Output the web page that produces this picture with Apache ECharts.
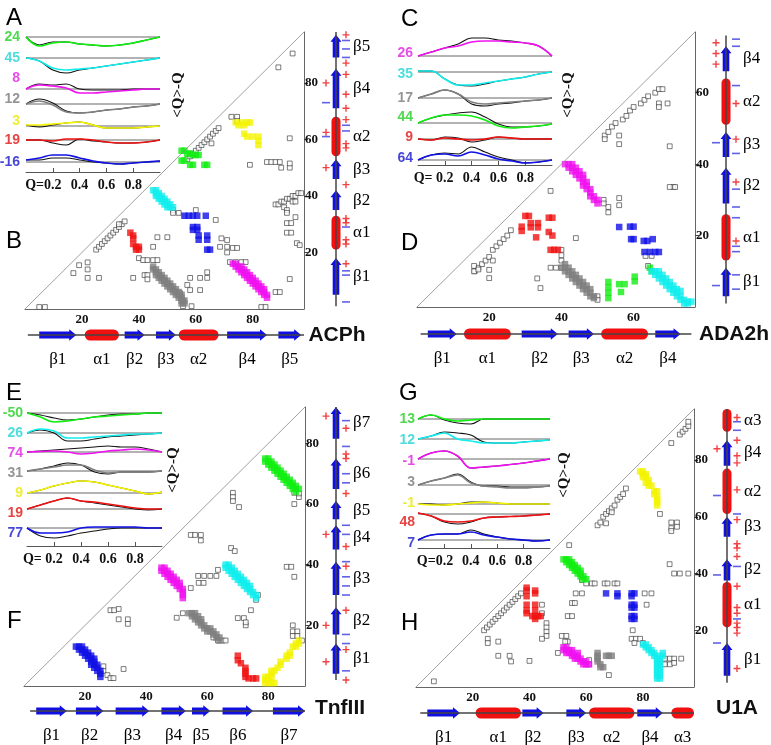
<!DOCTYPE html>
<html><head><meta charset="utf-8">
<script src="https://cdn.jsdelivr.net/npm/echarts@6/dist/echarts.min.js"></script>
<style>html,body{margin:0;padding:0;background:#fff}#c{width:771px;height:745px}</style>
</head><body><div id="c"></div><script>
// ---------------- DATA ----------------
const Q = [0,0.1,0.2,0.3,0.4,0.5,0.6,0.7,0.8,0.9,1.0];

// ACPh inset
const acphLabels = ['24','45','8','12','3','19','-16'];
const acphColors = ['green','cyan','magenta','gray','yellow','red','blue'];
const acphBase = [135,114,83,68,46,32,10];
const acphLabelY = [135,114,94,73,51,32,10];
const acphCol = [[0,-9,-6,-5,-7,-8,-9,-8,-6,-3,0],[0,-3,-10,-12,-11,-10,-8,-6,-4,-2,0],[0,4,3,1,-4,-4,-3,-2,-1,0,0],[0,3,-1,-8,-9,-8,-6,-5,-3,-2,0],[1,1,2,3,4,1,-2,-2,-2,-1,0],[0,0,-1,1,1,0,-2,-3,-3,-2,0],[2,4,7,7,4,1,-1,-2,-1,0,1]];
const acphBlk = [[0,-8,-5,-5,-7,-8,-9,-8,-6,-3,0],[0,-3,-12,-15,-12,-10,-8,-6,-4,-2,0],[0,5,4,5,0,-1,-1,-1,0,0,0],[0,5,1,-7,-9,-8,-6,-5,-3,-2,0],[1,-1,1,3,4,1,-2,-2,-2,-1,0],[0,0,-3,-5,1,-1,-2,-3,-3,-2,0],[2,2,4,4,2,0,-1,-2,-1,0,1]];

// ADA2h inset
const adaLabels = ['26','35','17','44','9','64'];
const adaColors = ['magenta','cyan','gray','green','red','blue'];
const adaBase = [109,93,67,42,26,5];
const adaLabelY = [112,91,67,48,28,7];
const adaCol = [[0,4,8,10,14,15,15,14,13,10,0],[1,1,-7,-13,-13,-11,-9,-7,-5,-2,0],[0,4,8,4,-4,-6,-5,-4,-3,-2,0],[0,5,8,8,7,3,-3,-5,-4,-3,-1],[0,-1,1,0,-1,0,2,1,0,0,0],[0,5,6,4,8,5,1,-1,-3,-2,0]];
const adaBlk = [[0,4,8,12,18,18,16,15,13,10,0],[1,1,-7,-13,-14,-12,-9,-7,-5,-2,0],[0,4,8,4,-6,-8,-6,-5,-3,-2,0],[0,5,8,10,11,6,-1,-4,-4,-3,-1],[0,-1,2,1,-3,-1,2,1,0,0,0],[0,5,7,6,13,8,3,0,-3,-2,0]];

// TnfIII inset
const tnfLabels = ['-50','26','74','31','9','19','77'];
const tnfColors = ['green','cyan','magenta','gray','yellow','red','blue'];
const tnfBase = [133,113,94,75,53,37,18];
const tnfLabelY = [133,113,93,73,53,33,13];
const tnfCol = [[0,-4,-9,-8,-6,-4,-3,-2,-1,0,0],[0,4,2,-5,-5,-4,-3,-2,-1,-1,0],[0,0.5,1,0,-2,-1,1,2,3,2,0],[0,2,4,6,6,1,-2,-1,-1,-1,0],[0,3,7,10,12,11,8,5,2,-1,1],[0,4,8,11,8,7,5,3,1,0,0],[0,-5,-5,-4,0,1,1,1,1,0,0]];
const tnfBlk = [[0,-2,-5,-7,-6,-4,-2,-1,-1,0,0],[0,3,0,-8,-8,-6,-4,-3,-2,-1,0],[0,1,2,3,4,5,6,5,5,3,0],[0,2,5,8,6,-1,-3,-1,-1,-1,0],[0,3,7,10,12,11,8,5,2,-1,1],[0,4,8,11,8,6,4,2,0,-1,0],[0,-8,-10,-8,-5,-3,-1,0,0,0,0]];

// U1A inset
const u1aLabels = ['13','12','-1','3','-1','48','7'];
const u1aColors = ['green','cyan','magenta','gray','yellow','red','blue'];
const u1aBase = [129,109,89,63,44,34,8];
const u1aLabelY = [129,108,87,66,45,26,5];
const u1aCol = [[0,4,0,-2,-1,0,0,0,0,0,0],[0,3,6,0,-2,-4,-4,-4,-3,-2,-1],[0,6,8,3,-9,-8,-7,-5.5,-4,-2,0],[0,4,7,10,2,-1,-2,-3,-3,-2,-1],[0,-1,-1,0,1,2,1,0,0,0,0],[1,-2,-7,-8,-7,-4,-3,-2.5,-2,-1,0],[0,5,6,6,8,5,3,1,0,-1,0]];
const u1aBlk = [[0,4,-1,-4,-5,0,0,0,0,0,0],[0,3,7,6,4,-3,-4,-4,-3,-2,-1],[0,6,8,3,-9,-8,-7,-5.5,-4,-2,0],[0,4,7,11,3,-1,-1,-2,-2,-2,-1],[0,0,-1,0,2,2,1,0,0,0,0],[1,-2,-8,-10,-8,-4,-3,-2.5,-2,-1,0],[0,5,6,6,10,6,3,1,0,-1,0]];

// Contact maps: open squares
const acphOpen = [[25,21],[26,22],[27,23],[28,24],[29,25],[30,26],[31,27],[32,28],[33,29],[34,30],[35,31],[33,30],
[19,15.5],[22,16.5],[22,14],[22,11],[17,12.7],[26,11],[5,0.7],[7,0.7],
[40,18],[41.5,17.3],[43,17.3],[45,17.3],[46.5,17.3],[45,22],[50,25.4],[46.5,25.4],
[38,11],[42,12],[43,12],[43,10.5],[52,35],[54,34],[52,34],[60,35],[67,31.5],
[69,25],[71,24.4],[68.5,22],[71,22],[73,21.6],[71,20],[74.5,21.6],
[72,16.6],[74,16.6],[76,16.6],[77.5,16.6],
[58,11],[61.5,11],[64,13],[64,11],[57,8.5],[58,6.7],[61.5,6.7],[58.5,1],
[54.5,5.6],[55.5,2.8],[55.5,1],[88,6],[89.5,6],[83,0.7],[84.5,0.7],[93,10.6],
[88,37],[89,37],[90,38],[91,38],[92,39],[93,39],[94,40],[95,40],[96,41],[97,41],[91,36],[92,35],[94,38],[95,38],
[92,34],[95,32.5],[92,30.4],[93.5,30.4],[92,27],[93.5,27],[95.5,23.3],[96.5,22.6],
[72.5,68],[74.5,68],[74.5,66.5],[93,60.4],[89,85.5],[94,90.4],
[79,51],[85,52],[86.5,52],[88,52],[89.5,52],[90,50],[93,50],[93,51.5],
[57,53],[58,54],[59,55],[60,56],[61,57],[62,58],[63,59],[64,60],[65,61],[66,62],[67,63],[68,64],[65.5,58.6]];
const adaOpen = [[16,10],[17,11],[18,12],[19,13],[20,14],[21,16],[22,17],[23,18],[24,19],[25,20],[26,21.5],
[15.8,11.5],[15.8,10],[17,10.5],[21,13],[20,10.4],[20,8.1],[33.3,8],[34.2,5.3],
[37,11],[38.5,11],[40,11],[40,13],[40,14.5],[44,19.3],[40,16],[50,3],[50,2],[37,32.5],
[51.7,30],[53,28],[53,26.5],[56,30.5],[56,28.5],[51.7,29],[63.3,14.3],[65,14.3],[71,33.6],[64,11.5],
[52,48],[53,49],[54,50.5],[55,51.5],[57,52.5],[58,53.5],[59,55],[60,56],[62,57],[63,58],[64,59],[66,60],[67,61],[68,61],[52,47],
[56,48],[56,45.6],[67,57],[67,56],[69.4,57],[70,45],[70,33.6],[71.5,33.6]];
const tnfOpen = [[28.3,25],[29.5,25],[31,25.4],[31,22],[34,22],[34,20.5],
[32.6,5.6],[26,5],[27.3,3.6],[28.3,2.6],[29.3,2.6],[26,6.5],[50,22.5],[52,24],[54.6,32.3],
[57,36.3],[59,36.3],[61,36.3],[63,36.3],[57.2,34],[58.8,34],[63.5,38.3],
[70,22.4],[72,22.4],[72.6,20],[72.6,21],[74.3,25],[76.6,30],[76,28.4],
[86,39.3],[87.5,39.3],[88.5,36],[88,20],[88,18],[89.5,18],[88,16.5],[89.5,16.5],[91,15],
[68.4,63.7],[68.4,62.3],[68.4,61],[70.4,59],[88.5,63.7],[90,62.3],[90,63.5],[88.5,60],
[54.6,49.8],[56,49.8],[57.9,49.8],[57.9,48],[67.8,45.5],[69,44.5],[62,16],[63.5,15],[65,15],[66,15]];
const u1aOpen = [[24,20],[25,21],[26,22],[27,23],[28,24],[29,25],[30,26],[31,27],[32,28],[33,29],[34,30],[35,31],[36,32],[37,33],
[25.3,17],[25.3,15.5],[29,16],[29,11],[33,11],[33.5,9],[6.3,2],[40,9.2],
[44.4,29],[44.4,26],[46,22.5],[46,21],[46,19.5],[46,18],[44.4,17],
[51.4,18],[53,18],[53.5,16],[52.6,16],[50,12],[53.5,25],[55,25],[55,29.6],[56,29.6],[56.3,33],[58.5,33],
[61,9.5],[61,8],[68,4.2],[58.5,37.7],[60,36.5],[62,36.5],[63,36.5],[66.5,36.5],[67.5,36.5],[70,36.5],[71,36.5],
[76,17],[77.5,17],[79,17],[80,15.5],[77,15.5],[76.4,20],[80.6,33],[83,33],[81.3,29],
[87.7,10],[89.5,10],[91,10],[93.5,10],[87.7,8],[89.5,8],[91,8.5],
[64,57],[65,58],[66,60],[67,61],[68,62],[69,63],[70,64],[71,66],[72,67],[73,68],[74,70],[67,57.7],[69,61.6],
[90,58],[92,58],[92,56.5],[90,56],[90,55],[90,86],[86,61],[89.4,43.3],[91,40],[93,40],[96,40],
[93,89],[94,90],[95,91],[96,92],[96,93.5],[54,50]];

// Contact maps: coloured contact groups
const acphFilled = [
 ['green',[[55,56],[56,56],[57,55],[58,55],[59,54.5],[60,54.5],[61,54.5],[55,52.5],[56,52.5],[58,51],[59,51],[63,51],[64,51]]],
 ['cyan',[[45,42],[46,42],[46,41],[47,41],[47,40],[48,40],[48,39],[49,39],[49,38],[50,38],[50,37],[51,37],[51,36],[52,36],[46,40],[47,39],[48,38],[49,37],[50,36]]],
 ['blue',[[56,33],[57.5,33],[59,33],[60.5,33],[63.5,33],[59,29],[60.5,29],[59,28],[60.5,28],[61,26],[61,24.5],[64,26],[64,24.5],[64,21],[65,21]]],
 ['red',[[37,27],[38,26],[38,25],[38,23],[39,22],[40,22],[39,21],[40,21]]],
 ['gray',[[45,15],[45,14],[46,14],[46,13],[47,13],[47,12],[48,12],[47,11],[48,11],[49,11],[49,10],[50,10],[50,9],[51,9],[51,8],[52,8],[52,7],[53,7],[53,6],[54,6],[54,5],[55,5],[54,4],[55,4],[55,3],[56,3],[55,2],[56,2],[48,10],[49,9],[50,8],[51,7],[52,6],[53,5],[46,12]]],
 ['magenta',[[73,16],[74,16],[74,15],[75,15],[75,14],[76,14],[76,13],[77,13],[77,12],[78,12],[78,11],[79,11],[79,10],[80,10],[80,9],[81,9],[81,8],[82,8],[82,7],[83,7],[83,6],[84,6],[84,5],[85,5],[85,4],[76,15],[77,14],[78,13],[79,12],[80,11],[81,10],[82,9],[83,8],[84,7]]],
 ['yellow',[[74,66],[75,65],[76,66],[77,65],[78,66],[79,66],[77,62],[78,61],[80,61],[82,61],[82,58],[82,59.5]]]];
const adaFilled = [
 ['magenta',[[41,40],[42,40],[42,39],[43,39],[43,38],[44,38],[44,37],[45,37],[45,36],[46,36],[46,35],[46,34],[47,34],[47,33],[48,33],[48,32],[48,31],[49,31],[49,30],[50,30],[50,29],[43,40],[44,39],[45,38],[46,37],[47,35]]],
 ['red',[[30,25.5],[31,25.5],[29,22.5],[29,21.3],[31.5,23.5],[31.5,22.3],[33.5,23.5],[33.5,22.3],[36.5,25],[37.5,25],[36.5,21],[37.5,20],[33,19.5],[37,16],[38,16],[39,16]]],
 ['gray',[[40,11],[41,11],[41,10],[42,10],[42,9],[43,9],[43,8],[44,8],[44,7],[45,7],[45,6],[46,6],[46,5],[47,5],[47,4],[48,4],[48,3],[49,3],[49,2.5],[43,10],[44,9],[45,8],[46,7],[47,6],[48,5],[42,11],[41,12]]],
 ['green',[[53,7],[53,5.5],[53,4],[53,2.5],[56,6.4],[57.5,6.4],[56.5,4.2],[60.3,8.5],[60.3,7.2],[64.5,11],[65,10]]],
 ['cyan',[[65,10],[66,10],[66,9],[67,9],[67,8],[68,8],[68,7],[69,7],[69,6],[70,6],[70,5],[71,5],[71,4],[72,4],[72,3],[73,3],[73,2],[74,2],[74,1],[75,1],[67,10],[68,9],[69,8],[70,7],[71,6],[72,5],[73,4.5],[75,1.5],[76,1.5]]],
 ['blue',[[56,22.4],[59,22.5],[60,22.5],[59.3,19],[60,19],[62.8,18.5],[63.8,18.5],[65.3,19],[63,15.4],[64.5,15.4],[66,15.4],[67,15.4]]]];
const tnfFilled = [
 ['blue',[[17,13],[18,13],[18,12],[19,12],[19,11],[20,11],[20,10],[21,10],[21,9],[22,9],[22,8],[23,8],[23,7],[24,7],[24,6],[24,5],[25,5],[25,4],[25,3],[19,13],[20,12],[21,11],[22,10],[23,9],[22,7],[23,6]]],
 ['magenta',[[45,39],[45,38],[46,38],[46,37],[47,37],[47,36],[48,36],[48,35],[49,35],[49,34],[50,34],[50,33],[51,33],[51,32],[52,32],[52,31],[52,30],[52,29],[46,39],[47,38],[48,37],[49,36],[50,35],[51,34]]],
 ['gray',[[54,24],[55,24],[55,23],[56,23],[56,22],[57,22],[57,21],[58,21],[58,20],[59,20],[59,19],[60,19],[61,19],[61,18],[62,18],[62,17],[63,17],[63,16],[64,16],[56,24],[57,23],[58,22],[60,18],[64,15]]],
 ['cyan',[[66,40],[66,39],[67,39],[67,38],[68,38],[68,37],[69,37],[69,36],[70,36],[70,35],[71,35],[71,34],[72,34],[72,33],[73,33],[73,32],[74,32],[74,31],[75,31],[75,30],[76,30],[76,29],[67,40],[68,39],[69,38],[70,37],[71,36],[72,35],[73,34],[74,33]]],
 ['green',[[79,75],[79,74],[80,74],[80,73],[81,73],[81,72],[82,72],[82,71],[83,71],[83,70],[84,70],[84,69],[85,69],[85,68],[86,68],[86,67],[87,67],[87,66],[88,66],[88,65],[89,65],[89,64],[80,75],[81,74],[82,73],[83,72],[84,71],[85,70],[86,69],[87,68],[88,67],[89,66],[90,65]]],
 ['red',[[70,10],[70,8.5],[71,7.5],[72.5,6],[72.5,5],[72.5,4],[72.5,3],[73.5,2.5],[75,2.5],[76,2.5]]],
 ['yellow',[[79,1],[80,1],[81,1],[82,1],[79,2],[80,2],[79,3],[80,3],[81,3],[81,4],[81,5],[82,5],[83,6],[84,7],[84,8],[86,9],[86,10],[87,10],[87,11],[88,13],[89,13],[89,14],[90,14],[90,15]]]];
const u1aFilled = [
 ['red',[[39,35],[39,34],[39,32],[42,34],[42,33],[39,29],[39,27],[39,26],[42,29],[42,27],[41,25],[42,25],[43,25],[42,24],[44,25]]],
 ['green',[[52,45],[53,45],[53,44],[54,44],[54,43],[55,43],[55,42],[56,42],[56,41],[57,41],[57,40],[58,40],[58,39],[59,39],[59,38],[60,38],[54,45],[55,44],[56,43],[57,42],[58,41]]],
 ['blue',[[67,33],[71,33],[71,32],[76,33],[77,33],[76,32],[76,29],[77,29],[76,28],[77,28],[76,25],[77,25],[76,24],[77,24]]],
 ['magenta',[[52,14],[52,13],[53,13],[53,12],[54,12],[54,13],[55,12],[55,11],[56,11],[56,10],[57,10],[57,11],[58,10],[58,9],[59,9],[59,8],[60,8],[60,9],[61,8],[53,14],[55,13],[57,12]]],
 ['gray',[[64,12],[64,11],[64,10],[64,9],[65,8],[65,7],[66,7],[67,11],[68,11],[69,11]]],
 ['cyan',[[80,15],[81,15],[81,14],[82,14],[82,13],[83,13],[83,12],[84,12],[84,11],[85,11],[85,10],[86,10],[86,9],[85,9],[85,8],[86,8],[85,7],[86,7],[85,6],[86,6],[85,5],[86,5],[85,4],[86,4],[85,3],[86,3],[87,12],[87,11]]],
 ['yellow',[[79,76],[80,76],[80,75],[81,75],[80,74],[81,74],[82,73],[81,72],[82,72],[82,71],[83,71],[84,69],[85,69],[84,68],[85,67],[85,66],[85,65],[85,64]]]];

// Secondary structure: [start, end, type(0=beta,1=alpha), label]
const acphSS = [[5,18,0,'β1'],[21,33,1,'α1'],[35,42,0,'β2'],[46,53,0,'β3'],[54,68,1,'α2'],[71,85,0,'β4'],[89,97,0,'β5']];
const adaSS = [[3,11,0,'β1'],[13,26,1,'α1'],[29,39,0,'β2'],[42,49,0,'β3'],[51,64,1,'α2'],[66,73,0,'β4']];
const tnfSS = [[4,14,0,'β1'],[17,26,0,'β2'],[30,41,0,'β3'],[45,53,0,'β4'],[55,61,0,'β5'],[65,75,0,'β6'],[81.5,92,0,'β7']];
const u1aSS = [[4,15.5,0,'β1'],[21,37,1,'α1'],[37.5,45,0,'β2'],[53,60,0,'β3'],[61,77,1,'α2'],[78,87,0,'β4'],[90,98,1,'α3']];
const acphChain = [1,98], adaChain = [1,76], tnfChain = [2,92], u1aChain = [1.5,98];

// Charges: [residue, side] side 1 = above/left, -1 = below/right
const acphPlus = [[50,1],[62.5,1],[80,1],[16,-1],[23,-1],[24.5,-1],[30.5,-1],[32,-1],[44,-1],[57,-1],[58.5,-1],[67,-1],[71,-1],[76,-1],[83,-1],[87,-1],[97,-1]];
const acphMinus = [[61,1],[73,1],[2.5,-1],[12,-1],[13.5,-1],[29,-1],[63,-1],[65,-1],[89,-1],[92,-1],[95,-1]];
const adaPlus = [[68,1],[71,1],[74,1],[18.5,-1],[35,-1],[47,-1],[57,-1]];
const adaMinus = [[6,1],[46,1],[5,-1],[9,-1],[15.5,-1],[17,-1],[25,-1],[28,-1],[33,-1],[43,-1],[62,-1],[73,-1],[75,-1]];
const tnfPlus = [[8,1],[20,1],[50,1],[89,1],[2,-1],[12,-1],[25,-1],[39.5,-1],[46,-1],[63.5,-1],[75,-1],[76.5,-1],[85,-1]];
const tnfMinus = [[5,-1],[14,-1],[17,-1],[30,-1],[33,-1],[36,-1],[41,-1],[50,-1],[53,-1],[67,-1],[70,-1],[79,-1],[87.5,-1]];
const u1aPlus = [[84,1],[6.5,-1],[19,-1],[21,-1],[22.5,-1],[26,-1],[28,-1],[35.5,-1],[46,-1],[49,-1],[50.5,-1],[59,-1],[69.5,-1],[79,-1],[81.5,-1],[87,-1],[95,-1]];
const u1aMinus = [[15.5,1],[39.5,1],[67.5,1],[24,-1],[42.5,-1],[61,-1],[90.5,-1],[93.5,-1]];

const panelNames = ['ACPh','ADA2h','TnfIII','U1A'];
const panelLetters = [['A','B'],['C','D'],['E','F'],['G','H']];
const qPrefixes = ['Q=','Q= ','Q= ','Q='];

// ---------------- STYLE / LAYOUT ----------------
const COLORS = {green:'#12ee12', cyan:'#12eeee', magenta:'#f012f0', gray:'#808080', yellow:'#f4f400', red:'#f01212', blue:'#1212e6'};
const LCOLORS = {green:'#22d022', cyan:'#22d4d4', magenta:'#e020e0', gray:'#7a7a7a', yellow:'#e8e800', red:'#e01414', blue:'#1616cc'};
const SERIF = '"Liberation Serif", "DejaVu Serif", serif';
const SANS = '"Liberation Sans", Arial, sans-serif';

const layouts = [
 {c:{left:25, top:32, width:279, height:277, max:98}, ins:{left:26, top:30, width:134, height:142, dist:6}, hy:335, vx:336, rot:[178,95], letters:[[6,6],[6,229]], name:[337,335]},
 {c:{left:417, top:32, width:278, height:275, max:77}, ins:{left:418, top:30, width:134, height:135, dist:5}, hy:334, vx:726, rot:[568,95], letters:[[401,7],[401,231]], name:[734,334]},
 {c:{left:24, top:407, width:281, height:279, max:92}, ins:{left:27, top:405, width:135, height:141, dist:4}, hy:711, vx:336, rot:[173,470], letters:[[6,381],[7,609]], name:[340,708]},
 {c:{left:416, top:409, width:278, height:278, max:98}, ins:{left:418, top:405, width:132, height:143, dist:3}, hy:713, vx:727, rot:[564,475], letters:[[399,381],[401,611]], name:[737,708]}
];
const insets = [
 [acphLabels,acphColors,acphBase,acphLabelY,acphCol,acphBlk],
 [adaLabels,adaColors,adaBase,adaLabelY,adaCol,adaBlk],
 [tnfLabels,tnfColors,tnfBase,tnfLabelY,tnfCol,tnfBlk],
 [u1aLabels,u1aColors,u1aBase,u1aLabelY,u1aCol,u1aBlk]];
const maps = [[acphOpen,acphFilled],[adaOpen,adaFilled],[tnfOpen,tnfFilled],[u1aOpen,u1aFilled]];
const sss = [[acphSS,acphChain,acphPlus,acphMinus],[adaSS,adaChain,adaPlus,adaMinus],[tnfSS,tnfChain,tnfPlus,tnfMinus],[u1aSS,u1aChain,u1aPlus,u1aMinus]];

// ---------------- BUILD ----------------
const grid=[], xAxis=[], yAxis=[], series=[], graphic=[];
function addGrid(g, xa, ya){ grid.push(g); const gi=grid.length-1;
  xAxis.push(Object.assign({gridIndex:gi, type:'value'}, xa)); yAxis.push(Object.assign({gridIndex:gi, type:'value'}, ya)); return gi; }
const hidden = (min,max)=>({show:false, min:min, max:max, splitLine:{show:false}});
const PLUS = 'path://M2.8,0H4.2V2.8H7V4.2H4.2V7H2.8V4.2H0V2.8H2.8Z';

function arrowH(x1,x2,y){ const h=3.6,H=5.8,L=Math.min(7,(x2-x1)*0.6);
  return [[x1,y-h],[x2-L,y-h],[x2-L,y-H],[x2,y],[x2-L,y+H],[x2-L,y+h],[x1,y+h]]; }
function arrowV(y1,y2,x){ const h=3.3,H=5.5,L=Math.min(7,(y1-y2)*0.6);
  return [[x-h,y1],[x-h,y2+L],[x-H,y2+L],[x,y2],[x+H,y2+L],[x+h,y2+L],[x+h,y1]]; }

layouts.forEach((L,p)=>{
  const C = L.c;
  const lbl = {fontFamily:SERIF, fontWeight:'bold', fontSize:13, color:'#111'};
  const gc = addGrid({left:C.left, top:C.top, width:C.width, height:C.height},
    {min:0, max:C.max, interval:20, axisLine:{show:true, onZero:false, lineStyle:{color:'#666', width:1}}, axisTick:{show:false}, splitLine:{show:false},
     axisLabel:Object.assign({margin:4, showMaxLabel:false, showMinLabel:false, formatter:v=>(v>0&&v<C.max)?String(v):''}, lbl)},
    {min:0, max:C.max, interval:20, position:'right', axisLine:{show:true, onZero:false, lineStyle:{color:'#666', width:1}}, axisTick:{show:true, length:4, lineStyle:{color:'#444'}}, splitLine:{show:false},
     axisLabel:Object.assign({margin:1, showMaxLabel:false, showMinLabel:false, formatter:v=>(v>0&&v<C.max)?String(v):''}, lbl)});
  series.push({type:'line', xAxisIndex:gc, yAxisIndex:gc, data:[[0,0],[C.max,C.max]], symbol:'none', silent:true, lineStyle:{color:'#888', width:0.8}});
  const [open, filled] = maps[p];
  series.push({type:'scatter', xAxisIndex:gc, yAxisIndex:gc, data:open, symbol:'rect', symbolSize:4.8, silent:true,
    itemStyle:{color:'#fff', borderColor:'#333', borderWidth:0.8}});
  filled.forEach(([col, pts])=>{
    series.push({type:'scatter', xAxisIndex:gc, yAxisIndex:gc, data:pts, symbol:'rect', symbolSize:6.5, silent:true, itemStyle:{color:COLORS[col]}});
  });

  // inset
  const I = L.ins; const [labs, cols, base, labY, colv, blkv] = insets[p];
  const pre = qPrefixes[p];
  const gi = addGrid({left:I.left, top:I.top, width:I.width, height:I.height},
    {min:0, max:1, interval:0.2, axisLine:{show:true, lineStyle:{color:'#555'}}, axisTick:{show:true, inside:true, length:4, lineStyle:{color:'#555'}}, splitLine:{show:false},
     axisLabel:{margin:6, fontFamily:SERIF, fontWeight:'bold', fontSize:14, color:'#111', showMinLabel:false, showMaxLabel:false,
       formatter:v=>{ if(v<0.1||v>0.9) return ''; const s=v.toFixed(1); return Math.abs(v-0.2)<1e-6 ? '{p|'+pre+'}'+s+'{s|'+pre+'}' : s; },
       rich:{p:{fontFamily:SERIF, fontWeight:'bold', fontSize:14, color:'#111'}, s:{fontFamily:SERIF, fontWeight:'bold', fontSize:14, color:'rgba(0,0,0,0)'}}}},
    {min:0, max:I.height, show:false, splitLine:{show:false}});
  labs.forEach((t,i)=>{
    const b = base[i];
    series.push({type:'line', xAxisIndex:gi, yAxisIndex:gi, data:[[0,b],[1,b]], symbol:'none', silent:true, lineStyle:{color:'#666', width:1}});
    series.push({type:'line', xAxisIndex:gi, yAxisIndex:gi, data:Q.map((q,k)=>[q, b+blkv[i][k]]), symbol:'none', smooth:0.4, silent:true, lineStyle:{color:'#111', width:1.1}});
    series.push({type:'line', xAxisIndex:gi, yAxisIndex:gi, data:Q.map((q,k)=>[q, b+colv[i][k]]), symbol:'none', smooth:0.4, silent:true, lineStyle:{color:COLORS[cols[i]], width:1.7}});
    series.push({type:'scatter', xAxisIndex:gi, yAxisIndex:gi, data:[[0, labY[i]]], symbolSize:0, silent:true,
      label:{show:true, position:'left', distance:I.dist, formatter:t, color:LCOLORS[cols[i]], fontFamily:SANS, fontWeight:'bold', fontSize:14}});
  });

  // secondary structure
  const [ss, chain, plus, minus] = sss[p];
  const gh = addGrid({left:C.left, top:L.hy-10, width:C.width, height:20}, hidden(0,C.max), hidden(-1,1));
  const gv = addGrid({left:L.vx-10, top:C.top, width:20, height:C.height}, hidden(-1,1), hidden(0,C.max));
  series.push({type:'line', xAxisIndex:gh, yAxisIndex:gh, data:[[chain[0],0],[chain[1],0]], symbol:'none', silent:true, lineStyle:{color:'#444', width:1.5}});
  series.push({type:'line', xAxisIndex:gv, yAxisIndex:gv, data:[[0,chain[0]],[0,chain[1]]], symbol:'none', silent:true, lineStyle:{color:'#444', width:1.5}});
  const ssData = ss.map(e=>[e[0],e[1],e[2]]);
  series.push({type:'custom', xAxisIndex:gh, yAxisIndex:gh, data:ssData, silent:true, clip:false,
    renderItem:(params, api)=>{
      const a=api.coord([api.value(0),0]), b=api.coord([api.value(1),0]); const t=api.value(2); const y=a[1];
      const txt = {type:'text', style:{text:ss[params.dataIndex][3], x:(a[0]+b[0])/2, y:y+25, align:'center', verticalAlign:'middle', font:'17px '+SERIF, fill:'#000'}};
      const shape = t===0 ? {type:'polygon', shape:{points:arrowH(a[0],b[0],y)}, style:{fill:'#1010e0'}}
                          : {type:'rect', shape:{x:a[0], y:y-5.5, width:b[0]-a[0], height:11, r:5.5}, style:{fill:'#f01010'}};
      return {type:'group', children:[shape, txt]};
    }});
  series.push({type:'custom', xAxisIndex:gv, yAxisIndex:gv, data:ssData, silent:true, clip:false,
    renderItem:(params, api)=>{
      const a=api.coord([0,api.value(0)]), b=api.coord([0,api.value(1)]); const t=api.value(2); const x=a[0];
      const txt = {type:'text', style:{text:ss[params.dataIndex][3], x:x+17, y:(a[1]+b[1])/2, align:'left', verticalAlign:'middle', font:'17px '+SERIF, fill:'#000'}};
      const shape = t===0 ? {type:'polygon', shape:{points:arrowV(a[1],b[1],x)}, style:{fill:'#1010e0'}}
                          : {type:'rect', shape:{x:x-4.5, y:b[1], width:9, height:a[1]-b[1], r:4.5}, style:{fill:'#f01010'}};
      return {type:'group', children:[shape, txt]};
    }});
  series.push({type:'scatter', xAxisIndex:gh, yAxisIndex:gh, data:plus.map(c=>[c[0], c[1]*1.05]), symbol:PLUS, symbolSize:7, silent:true, itemStyle:{color:'#f01010'}});
  series.push({type:'scatter', xAxisIndex:gh, yAxisIndex:gh, data:minus.map(c=>[c[0], c[1]*1.05]), symbol:'rect', symbolSize:[8,1.6], silent:true, itemStyle:{color:'#3a3ae0'}});
  series.push({type:'scatter', xAxisIndex:gv, yAxisIndex:gv, data:plus.map(c=>[-c[1], c[0]]), symbol:PLUS, symbolSize:7, silent:true, itemStyle:{color:'#f01010'}});
  series.push({type:'scatter', xAxisIndex:gv, yAxisIndex:gv, data:minus.map(c=>[-c[1], c[0]]), symbol:'rect', symbolSize:[8,1.6], silent:true, itemStyle:{color:'#3a3ae0'}});

  // texts
  graphic.push({type:'text', x:L.rot[0], y:L.rot[1], rotation:Math.PI/2, style:{text:'<Q>-Q', align:'center', verticalAlign:'middle', font:'bold 15px '+SERIF, fill:'#111'}});
  graphic.push({type:'text', x:L.name[0], y:L.name[1], style:{text:panelNames[p], align:'center', verticalAlign:'middle', font:'bold 21px '+SANS, fill:'#111'}});
  L.letters.forEach((pos,k)=>{
    graphic.push({type:'text', x:pos[0], y:pos[1], style:{text:panelLetters[p][k], align:'left', verticalAlign:'top', font:'24px '+SANS, fill:'#000'}});
  });
});

const chart = echarts.init(document.getElementById('c'), null, {renderer:'canvas'});
chart.setOption({animation:false, backgroundColor:'#fff', grid, xAxis, yAxis, series, graphic});
</script></body></html>
